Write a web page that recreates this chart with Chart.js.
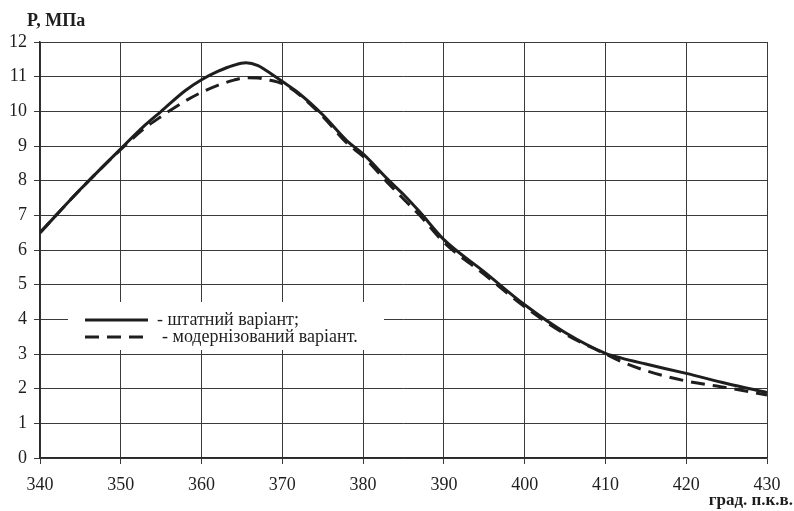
<!DOCTYPE html>
<html>
<head>
<meta charset="utf-8">
<script src="https://cdn.jsdelivr.net/npm/chart.js@4"></script>
<style>
  html, body { margin: 0; padding: 0; background: #fff; }
  #wrap { width: 794px; height: 511px; }
</style>
</head>
<body>
<div id="wrap"><canvas id="chart"></canvas></div>
<script>
// crank angle, deg
const angle = [340, 345, 350, 353, 355, 358, 360, 362, 364, 365.5, 367, 368, 370, 372, 375, 378, 380, 383, 385, 387, 390, 395, 400, 405, 410, 412, 415, 420, 425, 430];
// pressure, MPa
const pStandard = [6.5, 7.75, 8.92, 9.6, 10.0, 10.6, 10.91, 11.15, 11.33, 11.4, 11.32, 11.18, 10.86, 10.53, 9.9, 9.15, 8.77, 8.05, 7.6, 7.1, 6.3, 5.37, 4.42, 3.62, 3.02, 2.88, 2.71, 2.44, 2.15, 1.89];
const pModern = [6.5, 7.75, 8.9, 9.52, 9.85, 10.3, 10.55, 10.75, 10.9, 10.97, 10.96, 10.92, 10.8, 10.5, 9.85, 9.08, 8.7, 7.95, 7.47, 7.0, 6.22, 5.3, 4.36, 3.58, 3.0, 2.78, 2.52, 2.22, 2.03, 1.82];
const seriesNames = ['- штатний варіант;', '- модернізований варіант.'];
const yTitle = 'P, МПа';
const xTitle = 'град. п.к.в.';

const FONT = '"Liberation Serif", "DejaVu Serif", serif';
const INK = '#1e1e1e';

function pts(ys) {
    return angle.map((a, i) => ({ x: a, y: ys[i] }));
}

// legend box inside the plot + axis captions
const extras = {
    id: 'extras',
    afterDraw(chart) {
        const ctx = chart.ctx;
        ctx.save();
        ctx.fillStyle = '#fff';
        ctx.fillRect(68, 302, 316, 48);
        chart.data.datasets.forEach((ds, i) => {
            const y = 320 + i * 17;
            ctx.strokeStyle = ds.borderColor;
            ctx.lineWidth = ds.borderWidth;
            ctx.setLineDash(ds.borderDash || []);
            ctx.beginPath();
            ctx.moveTo(85, y);
            ctx.lineTo(148, y);
            ctx.stroke();
            ctx.setLineDash([]);
            ctx.fillStyle = INK;
            ctx.font = '18px ' + FONT;
            ctx.textBaseline = 'middle';
            ctx.fillText(ds.label, 157 + i * 5, y);
        });
        ctx.fillStyle = INK;
        ctx.font = 'bold 18px ' + FONT;
        ctx.textBaseline = 'middle';
        ctx.fillText(yTitle, 27, 21);
        ctx.textAlign = 'right';
        ctx.font = 'bold 17px ' + FONT;
        ctx.fillText(xTitle, 793, 501);
        ctx.restore();
    }
};

new Chart(document.getElementById('chart').getContext('2d'), {
    type: 'line',
    data: {
        datasets: [
            {
                label: seriesNames[0],
                data: pts(pStandard),
                borderColor: INK,
                borderWidth: 3,
                pointRadius: 0,
                cubicInterpolationMode: 'monotone'
            },
            {
                label: seriesNames[1],
                data: pts(pModern),
                borderColor: INK,
                borderWidth: 3,
                borderDash: [14, 8],
                pointRadius: 0,
                cubicInterpolationMode: 'monotone'
            }
        ]
    },
    options: {
        responsive: true,
        maintainAspectRatio: false,
        animation: false,
        layout: { padding: { top: 42, right: 27, left: 0, bottom: 0 } },
        plugins: {
            legend: { display: false },
            tooltip: { enabled: false }
        },
        scales: {
            x: {
                type: 'linear',
                min: 340,
                max: 430,
                ticks: { stepSize: 10, color: INK, font: { family: FONT, size: 18 }, padding: 10 },
                grid: { color: '#3a3a3a', lineWidth: 1, tickLength: 6, tickColor: '#3a3a3a' },
                border: { color: '#2a2a2a', width: 1.5 },
                afterFit(s) { s.height = 53; }
            },
            y: {
                min: 0,
                max: 12,
                ticks: { stepSize: 1, color: INK, font: { family: FONT, size: 18 }, padding: 7 },
                grid: { color: '#3a3a3a', lineWidth: 1, tickLength: 6, tickColor: '#3a3a3a' },
                border: { color: '#2a2a2a', width: 1.5 },
                afterFit(s) { s.width = 40; }
            }
        }
    },
    plugins: [extras]
});
</script>
</body>
</html>
